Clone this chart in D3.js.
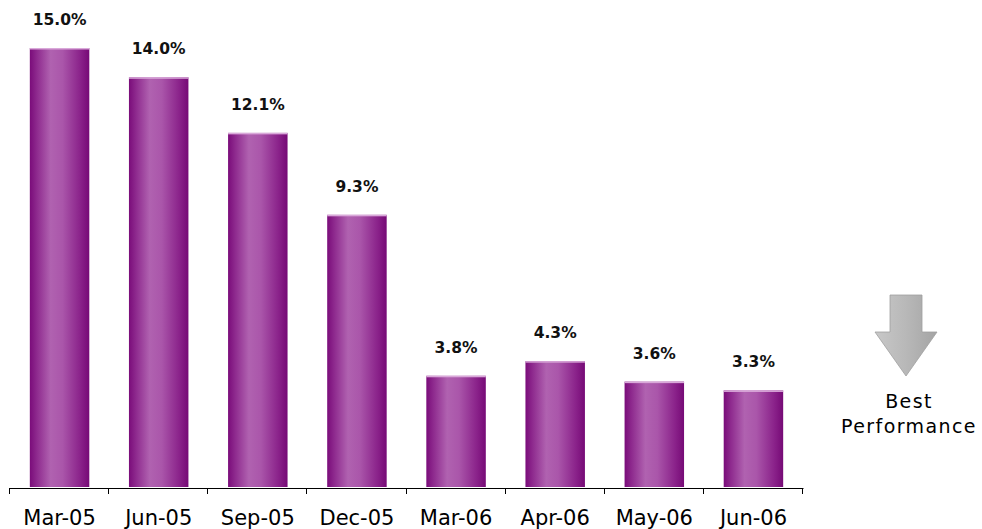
<!DOCTYPE html>
<html><head><meta charset="utf-8">
<script src="https://cdn.jsdelivr.net/npm/d3@7"></script>
<style>body{margin:0;background:#fff}svg{display:block}</style>
</head><body>
<svg id="c" width="982" height="529"></svg>
<script>
const categories = ["Mar-05","Jun-05","Sep-05","Dec-05","Mar-06","Apr-06","May-06","Jun-06"];
const values = [15.0,14.0,12.1,9.3,3.8,4.3,3.6,3.3];
const valueLabels = ["15.0%","14.0%","12.1%","9.3%","3.8%","4.3%","3.6%","3.3%"];
const noteLines = ["Best","Performance"];

const svg = d3.select("#c");
const defs = svg.append("defs");
const g1 = defs.append("linearGradient").attr("id","bar").attr("x1","0").attr("x2","1").attr("y1","0").attr("y2","0");
[[0,"#7a0c7a"],[0.12,"#8e2a8e"],[0.35,"#b062b0"],[0.55,"#aa56aa"],[0.85,"#8a228a"],[1,"#760a76"]].forEach(([o,c])=>g1.append("stop").attr("offset",o).attr("stop-color",c));
const g2 = defs.append("linearGradient").attr("id","arr").attr("x1","0").attr("x2","1").attr("y1","0").attr("y2","0");
[[0,"#c8c8c8"],[0.5,"#b8b8b8"],[1,"#a4a4a4"]].forEach(([o,c])=>g2.append("stop").attr("offset",o).attr("stop-color",c));

const x = d3.scaleBand().domain(categories).range([10,803]).paddingInner(0.4).paddingOuter(0.2);
const y = d3.scaleLinear().domain([0,15]).range([487,48]);

svg.selectAll("rect.bar").data(values).enter().append("rect")
  .attr("x",(d,i)=>x(categories[i])).attr("width",x.bandwidth())
  .attr("y",d=>y(d)).attr("height",d=>y(0)-y(d)).attr("fill","url(#bar)");
svg.selectAll("rect.hl").data(values).enter().append("rect")
  .attr("x",(d,i)=>x(categories[i])).attr("width",x.bandwidth())
  .attr("y",d=>y(d)).attr("height",1.5).attr("fill","#d9a8d9");

svg.selectAll("text.v").data(values).enter().append("text")
  .attr("x",(d,i)=>x(categories[i])+x.bandwidth()/2).attr("y",d=>y(d)-23)
  .attr("text-anchor","middle").attr("font-family","DejaVu Sans").attr("font-weight","bold")
  .attr("font-size",15.5).attr("fill","#111").text((d,i)=>valueLabels[i]);

// axis
const edges = d3.range(categories.length+1).map(i=>10+i*(793/categories.length));
svg.append("line").attr("x1",9.5).attr("x2",803.5).attr("y1",488.5).attr("y2",488.5).attr("stroke","#000").attr("stroke-width",1);
svg.selectAll("line.t").data(edges).enter().append("line")
  .attr("x1",d=>Math.round(d)-0.5).attr("x2",d=>Math.round(d)-0.5).attr("y1",488).attr("y2",494).attr("stroke","#000");
svg.selectAll("text.c").data(categories).enter().append("text")
  .attr("x",d=>x(d)+x.bandwidth()/2).attr("y",525)
  .attr("text-anchor","middle").attr("font-family","DejaVu Sans").attr("font-size",21).attr("fill","#000").text(d=>d);

// arrow
svg.append("path").attr("d","M890,295 L922,295 L922,332 L937,332 L906,376 L875,332 L890,332 Z")
  .attr("fill","url(#arr)").attr("stroke","#a0a0a0").attr("stroke-width",0.8);
svg.selectAll("text.n").data(noteLines).enter().append("text")
  .attr("x",909).attr("y",(d,i)=>408+i*25).attr("text-anchor","middle")
  .attr("font-family","DejaVu Sans").attr("font-size",19).attr("letter-spacing",1.4).attr("fill","#000").text(d=>d);
</script>
</body></html>
